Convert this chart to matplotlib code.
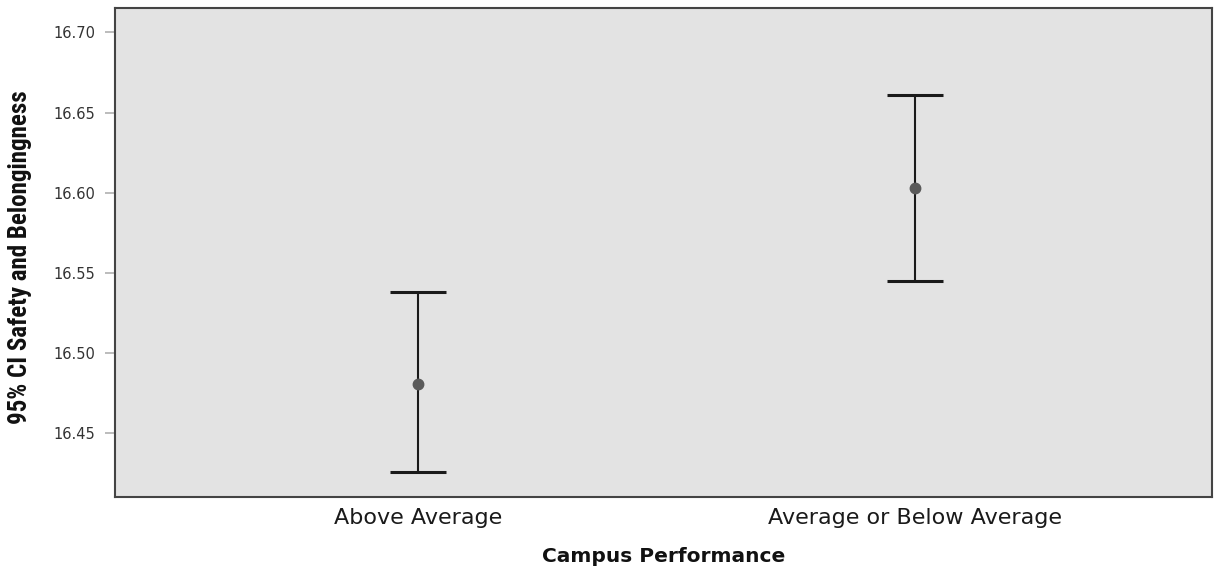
import matplotlib
matplotlib.use("Agg")
import matplotlib.pyplot as plt
from matplotlib import font_manager

categories = ["Above Average", "Average or Below Average"]
means = [16.481, 16.603]
lower = [16.426, 16.545]
upper = [16.538, 16.661]
yticks = [16.45, 16.50, 16.55, 16.60, 16.65, 16.70]
ytick_labels = ["16.45", "16.50", "16.55", "16.60", "16.65", "16.70"]

names = {f.name for f in font_manager.fontManager.ttflist}
cond = None
for cand in ["Liberation Sans Narrow", "DejaVu Sans Condensed", "Roboto Condensed", "Open Sans Condensed"]:
    if cand in names:
        cond = cand
        break

plt.rcParams["font.family"] = ["DejaVu Sans"]

fig = plt.figure(figsize=(12.21, 5.69), dpi=100)
ax = fig.add_axes([0.0942, 0.1271, 0.8984, 0.8583])
ax.set_facecolor("#e3e3e3")

x = list(range(len(categories)))
yerr = [[m - l for m, l in zip(means, lower)], [u - m for m, u in zip(means, upper)]]
eb = ax.errorbar(x, means, yerr=yerr, fmt="o", color="#5a5a5a", markersize=7.5,
                 ecolor="#1a1a1a", elinewidth=1.5, capsize=20, capthick=2.2, zorder=3)
for cap in eb[1]:
    cap.set_color("#333333")
    cap.set_markersize(40)

ax.set_xlim(-0.61, 1.598)
ax.set_ylim(16.4105, 16.715)
ax.set_yticks(yticks)
ax.set_yticklabels(ytick_labels)
ax.set_xticks(x)
ax.set_xticklabels(categories)

ax.tick_params(axis="y", length=7, width=1.2, color="#b0b0b0", pad=7,
               labelsize=10.5, labelcolor="#333333")
ax.tick_params(axis="x", length=0, pad=8, labelsize=16, labelcolor="#1a1a1a")

for s in ax.spines.values():
    s.set_color("#444444")
    s.set_linewidth(1.5)

ax.set_xlabel("Campus Performance", fontsize=14.5, fontweight="bold",
              labelpad=14, color="#111111")
if cond is not None:
    ax.set_ylabel("95% CI Safety and Belongingness", fontsize=18, fontweight="bold",
                  family=[cond, "DejaVu Sans"], color="#111111")
else:
    ax.set_ylabel("95% CI Safety and Belongingness", fontsize=12.6, fontweight="bold",
                  color="#111111")
ax.yaxis.set_label_coords(-0.0755, 0.49)

fig.savefig("out.png", dpi=100)
